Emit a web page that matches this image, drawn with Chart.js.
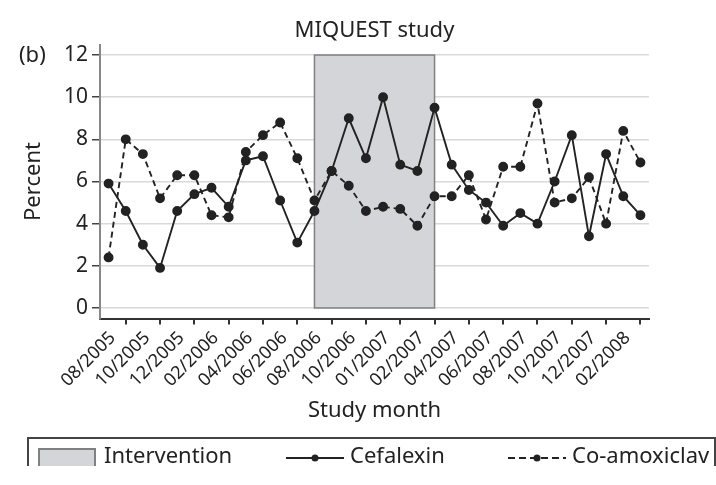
<!DOCTYPE html>
<html>
<head>
<meta charset="utf-8">
<script src="https://cdn.jsdelivr.net/npm/chart.js@4.4.0/dist/chart.umd.min.js"></script>
<style>
  body { margin: 0; background: #fff; font-family: "Noto Sans", sans-serif; color: #222; }
  #wrap { position: relative; width: 716px; height: 485px; overflow: hidden; }
  #chart { position: absolute; left: 0; top: 0; }
  .title { position: absolute; left: 100px; width: 549px; top: 15px; line-height: 26px; text-align: center; font-size: 22px; }
  .panel { position: absolute; left: 19px; top: 40px; line-height: 26px; font-size: 22px; }
  .legend-clip { position: absolute; left: 27px; top: 437px; width: 689px; height: 29px; overflow: hidden; }
  .legend { position: relative; width: 689px; height: 60px; border: 2px solid #444; box-sizing: border-box; }
  .legend .item { position: absolute; top: 2px; font-size: 22px; line-height: 26px; }
  .legend svg { position: absolute; }
</style>
</head>
<body>
<div id="wrap">
  <canvas id="chart" width="716" height="485"></canvas>
  <div class="title">MIQUEST study</div>
  <div class="panel">(b)</div>
  <div class="legend-clip"><div class="legend" id="legend"></div></div>
</div>
<script>
// labelled study months (every second point carries a label)
const tickLabels = ['08/2005', '10/2005', '12/2005', '02/2006', '04/2006', '06/2006', '08/2006', '10/2006',
    '01/2007', '02/2007', '04/2007', '06/2007', '08/2007', '10/2007', '12/2007', '02/2008'];

const cefalexin = [5.9, 4.6, 3.0, 1.9, 4.6, 5.4, 5.7, 4.8, 7.0, 7.2, 5.1, 3.1, 4.6, 6.5, 9.0, 7.1,
    10.0, 6.8, 6.5, 9.5, 6.8, 5.6, 5.0, 3.9, 4.5, 4.0, 6.0, 8.2, 3.4, 7.3, 5.3, 4.4];
const coAmoxiclav = [2.4, 8.0, 7.3, 5.2, 6.3, 6.3, 4.4, 4.3, 7.4, 8.2, 8.8, 7.1, 5.1, 6.5, 5.8, 4.6,
    4.8, 4.7, 3.9, 5.3, 5.3, 6.3, 4.2, 6.7, 6.7, 9.7, 5.0, 5.2, 6.2, 4.0, 8.4, 6.9];

const yTicks = [0, 2, 4, 6, 8, 10, 12];

// intervention period: point index range and height
const interventionStart = 12;
const interventionEnd = 19;
const interventionTop = 12;

let categories = [];
for (let i = 0; i < cefalexin.length; i++) {
    categories.push(i % 2 === 1 ? tickLabels[(i - 1) / 2] : '');
}

const ink = '#222';

const interventionBox = {
    id: 'interventionBox',
    beforeDatasetsDraw(chart) {
        let ctx = chart.ctx;
        let x = chart.scales.x, y = chart.scales.y;
        let left = x.getPixelForValue(interventionStart);
        let right = x.getPixelForValue(interventionEnd);
        let top = y.getPixelForValue(interventionTop);
        let bottom = y.getPixelForValue(0);
        ctx.save();
        ctx.fillStyle = '#d4d5d8';
        ctx.fillRect(left, top, right - left, bottom - top);
        ctx.strokeStyle = '#808080';
        ctx.lineWidth = 1.5;
        ctx.strokeRect(left, top, right - left, bottom - top);
        ctx.restore();
    }
};

Chart.defaults.font.family = '"Noto Sans", sans-serif';

let chart = new Chart(document.getElementById('chart').getContext('2d'), {
    type: 'line',
    data: {
        labels: categories,
        datasets: [{
            label: 'Cefalexin',
            data: cefalexin,
            borderColor: ink,
            backgroundColor: ink,
            borderWidth: 1.9,
            pointRadius: 4,
            pointHoverRadius: 4,
            tension: 0
        }, {
            label: 'Co-amoxiclav',
            data: coAmoxiclav,
            borderColor: ink,
            backgroundColor: ink,
            borderWidth: 1.9,
            borderDash: [6, 4],
            pointRadius: 4,
            pointHoverRadius: 4,
            tension: 0
        }]
    },
    options: {
        responsive: false,
        animation: false,
        layout: { padding: { left: 0, right: 67, top: 44.5, bottom: 55 } },
        plugins: {
            legend: { display: false },
            tooltip: { enabled: false }
        },
        scales: {
            x: {
                offset: true,
                grid: {
                    offset: false,
                    drawOnChartArea: false,
                    tickLength: 6,
                    lineWidth: 2,
                    tickColor: function (c) { return c.index % 2 === 1 ? '#333' : 'rgba(0,0,0,0)'; }
                },
                border: { color: '#333', width: 2 },
                ticks: {
                    autoSkip: false,
                    maxRotation: 45,
                    minRotation: 45,
                    padding: 3,
                    labelOffset: -13,
                    color: ink,
                    font: { size: 18 }
                },
                title: {
                    display: true,
                    text: 'Study month',
                    color: ink,
                    font: { size: 22 },
                    padding: { top: 0, bottom: 6 }
                },
                afterFit: function (s) { s.height = 111.5; }
            },
            y: {
                min: -0.5,
                max: 12.5,
                afterBuildTicks: function (ax) { ax.ticks = yTicks.map(v => ({ value: v })); },
                grid: { color: '#d9d9d9', lineWidth: 1.5, tickColor: '#444', tickLength: 8 },
                border: { color: '#888', width: 2 },
                ticks: { color: ink, padding: 4, font: { size: 21 } },
                title: {
                    display: true,
                    text: 'Percent',
                    color: ink,
                    font: { size: 22 },
                    padding: { top: 21, bottom: 0 }
                },
                afterFit: function (s) { s.width = 100; }
            }
        }
    },
    plugins: [interventionBox]
});

// legend below the chart
let legendItems = [
    { text: 'Intervention', kind: 'box', mark: 9, textX: 75 },
    { text: 'Cefalexin', kind: 'solid', mark: 257, textX: 321 },
    { text: 'Co-amoxiclav', kind: 'dashed', mark: 479, textX: 543 }
];
let legend = document.getElementById('legend');
legendItems.forEach(function (it) {
    let svg;
    if (it.kind === 'box') {
        svg = '<svg style="left:' + it.mark + 'px;top:9px" width="58" height="20">' +
            '<rect x="1" y="1" width="56" height="18" fill="#d4d5d8" stroke="#808080" stroke-width="2"/></svg>';
    } else {
        let dash = it.kind === 'dashed' ? ' stroke-dasharray="7 4"' : '';
        svg = '<svg style="left:' + it.mark + 'px;top:12px" width="60" height="14">' +
            '<line x1="0" y1="7" x2="58" y2="7" stroke="' + ink + '" stroke-width="1.8"' + dash + '/>' +
            '<circle cx="29" cy="7" r="3.5" fill="' + ink + '"/></svg>';
    }
    legend.insertAdjacentHTML('beforeend', svg +
        '<span class="item" style="left:' + it.textX + 'px">' + it.text + '</span>');
});
</script>
</body>
</html>
